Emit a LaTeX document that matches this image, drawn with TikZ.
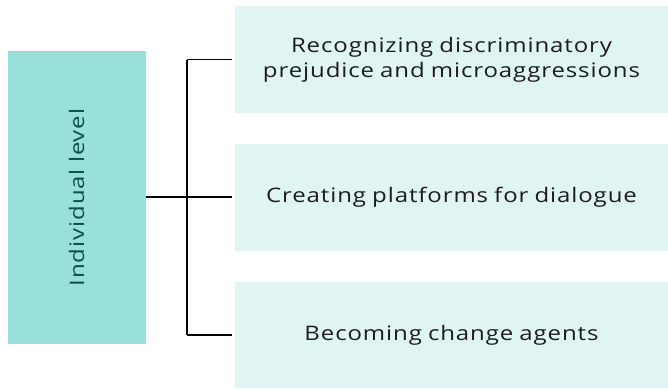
\documentclass[tikz,border=0pt]{standalone}
\usepackage{fontspec}
\setmainfont{Open Sans}[FakeStretch=1.2, LetterSpace=4.5, WordSpace=0.85]
\usetikzlibrary{positioning}
\definecolor{levelfill}{HTML}{99E0DA}
\definecolor{itemfill}{HTML}{E0F5F3}
\definecolor{leveltext}{HTML}{0B4F4C}
\definecolor{itemtext}{HTML}{1C1C1C}
\tikzset{levelbox/.style={fill=levelfill, text=leveltext, minimum width=138pt, minimum height=293pt, inner sep=0pt},
         itembox/.style={fill=itemfill, text=itemtext, minimum width=433pt, minimum height=107pt, align=center, inner sep=0pt,
                         font=\fontsize{20}{25}\selectfont},
         branch/.style={line width=1.8pt, black}}

\begin{document}
\begin{tikzpicture}[x=1pt, y=-1pt]
    \path[use as bounding box] (0, 0) rectangle (668, 389);

    % left box
    \node[levelbox] at (76.5, 197.5) (level) {};
    \node[rotate=90, text=leveltext, font=\fontsize{20}{24}\selectfont] at (level.center) (levellabel) {Individual level};

    % right boxes
    \node[itembox] at (451.5, 59.5) (recog) {Recognizing discriminatory\\prejudice and microaggressions};
    \node[itembox] at (451.5, 197) (dialog) {Creating platforms for dialogue};
    \node[itembox, minimum height=106pt] at (451.5, 335) (agents) {Becoming change agents};

    \coordinate (hub) at (187, 197);

    \draw[branch] (level.east |- hub) -- (hub);
    \draw[branch] (hub |- recog.west) -- (hub |- agents.west);
    \draw[branch, shorten >=3pt] (hub |- recog.west) -- (recog.west);
    \draw[branch, shorten >=3pt] (hub) -- (dialog.west);
    \draw[branch, shorten >=3pt] (hub |- agents.west) -- (agents.west);
\end{tikzpicture}
\end{document}
